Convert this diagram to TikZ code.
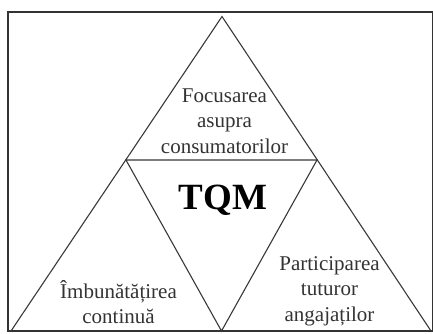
\documentclass[tikz,border=0pt]{standalone}
\usepackage{fontspec}
\setmainfont{Liberation Serif}
\begin{document}
\begin{tikzpicture}[x=1pt,y=-1pt,
  frame/.style={draw=black!80,line width=1.4pt},
  edge/.style={draw=black!78,line width=1.1pt,line join=miter},
  label/.style={align=center,inner sep=0pt,text=black!80,
    font=\fontsize{21}{25.5}\selectfont},
  core/.style={inner sep=0pt,font=\fontsize{37}{40}\selectfont\bfseries}]
  \useasboundingbox (0,0) rectangle (433,333);
  % outer frame
  \draw[frame] (8,12) rectangle (432.5,331);
  % corner points of the pyramid
  \coordinate (apex) at (222,16.5);
  \coordinate (bl) at (11,331);
  \coordinate (br) at (431,331);
  \coordinate (ml) at (126,160);
  \coordinate (mr) at (317,160);
  \coordinate (mb) at (221.5,331);
  % outer triangle and the inverted middle triangle
  \draw[edge] (bl) -- (apex) -- (br);
  \draw[edge] (ml) -- (mr) -- (mb) -- cycle;
  % labels
  \node[label] (top) at (224.5,121) {Focusarea\\asupra\\consumatorilor};
  \node[label] (left) at (118.5,302) {Îmbunătățirea\\continuă};
  \node[label] (right) at (329.5,291) {Participarea\\tuturor\\angajaților};
  \node[core] (tqm) at (223,200) {TQM};
\end{tikzpicture}
\end{document}
